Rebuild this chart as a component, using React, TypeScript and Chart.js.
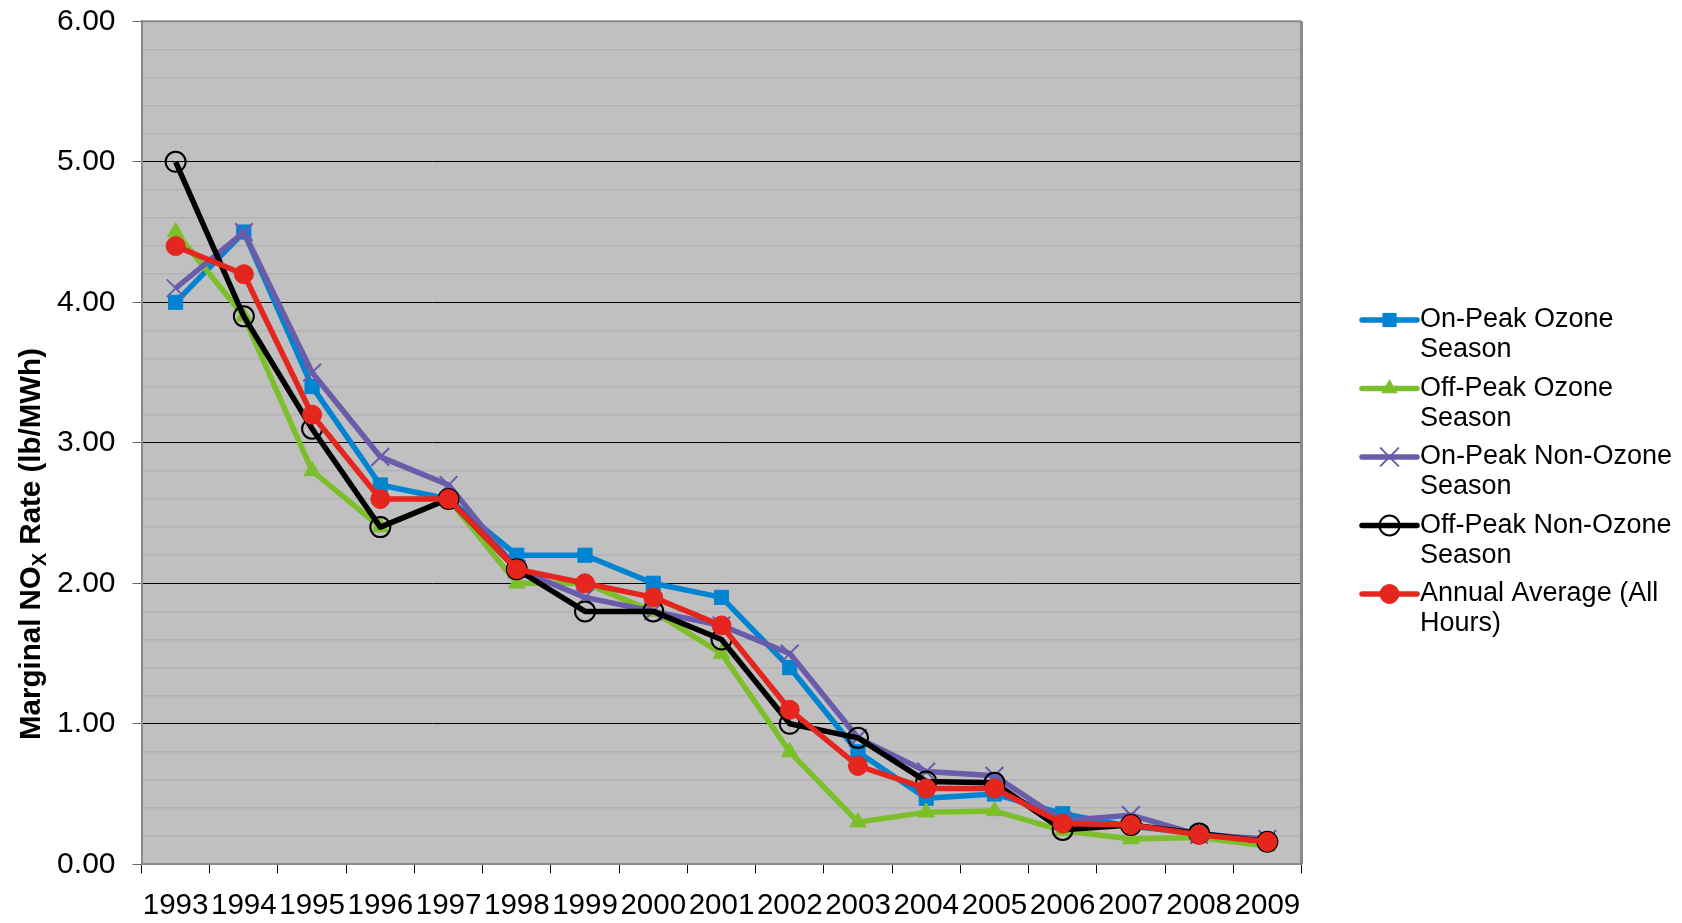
import React, { useEffect, useRef } from 'react';
import { Chart, registerables } from 'chart.js';

Chart.register(...registerables);

const YEARS = ['1993', '1994', '1995', '1996', '1997', '1998', '1999', '2000', '2001', '2002', '2003', '2004', '2005', '2006', '2007', '2008', '2009'];
const ON_PEAK_OZONE = [4.0, 4.5, 3.4, 2.7, 2.6, 2.2, 2.2, 2.0, 1.9, 1.4, 0.8, 0.47, 0.5, 0.36, 0.27, 0.22, 0.17];
const OFF_PEAK_OZONE = [4.5, 3.9, 2.8, 2.4, 2.6, 2.0, 2.0, 1.8, 1.5, 0.8, 0.3, 0.37, 0.38, 0.24, 0.18, 0.19, 0.13];
const ON_PEAK_NON_OZONE = [4.1, 4.5, 3.5, 2.9, 2.7, 2.1, 1.9, 1.8, 1.7, 1.5, 0.9, 0.66, 0.63, 0.31, 0.35, 0.21, 0.18];
const OFF_PEAK_NON_OZONE = [5.0, 3.9, 3.1, 2.4, 2.6, 2.1, 1.8, 1.8, 1.6, 1.0, 0.9, 0.59, 0.58, 0.245, 0.28, 0.22, 0.16];
const ANNUAL_AVERAGE = [4.4, 4.2, 3.2, 2.6, 2.6, 2.1, 2.0, 1.9, 1.7, 1.1, 0.7, 0.54, 0.54, 0.29, 0.28, 0.21, 0.16];

const LEGEND_LINES = [
  ['On-Peak Ozone', 'Season'],
  ['Off-Peak Ozone', 'Season'],
  ['On-Peak Non-Ozone', 'Season'],
  ['Off-Peak Non-Ozone', 'Season'],
  ['Annual Average (All', 'Hours)'],
];
const TITLE_MAIN = 'Marginal NO';
const TITLE_SUB = 'X';
const TITLE_REST = ' Rate (lb/MWh)';

const FONT = "'Liberation Sans', Arial, sans-serif";
const LINE_W = 5.5;

const SERIES = [
  { label: 'On-Peak Ozone Season', data: ON_PEAK_OZONE, color: '#0084D1', style: 'rect', radius: 10, fill: '#0084D1', bw: 1 },
  { label: 'Off-Peak Ozone Season', data: OFF_PEAK_OZONE, color: '#7DBE2B', style: 'triangle', radius: 9.5, fill: '#7DBE2B', bw: 1 },
  { label: 'On-Peak Non-Ozone Season', data: ON_PEAK_NON_OZONE, color: '#6A5BAB', style: 'crossRot', radius: 12.5, fill: '#6A5BAB', bw: 2 },
  { label: 'Off-Peak Non-Ozone Season', data: OFF_PEAK_NON_OZONE, color: '#000000', style: 'circle', radius: 10, fill: 'rgba(0,0,0,0)', bw: 2 },
  { label: 'Annual Average (All Hours)', data: ANNUAL_AVERAGE, color: '#E4261F', style: 'circle', radius: 9.5, fill: '#E4261F', bw: 1 },
];

function isMajor(v: number) {
  return Math.abs(v - Math.round(v)) < 1e-6;
}

function drawMarker(ctx: CanvasRenderingContext2D, s: any, x: number, y: number) {
  ctx.save();
  ctx.fillStyle = s.fill;
  ctx.strokeStyle = s.color;
  ctx.lineWidth = s.bw;
  const r = s.radius;
  ctx.beginPath();
  if (s.style === 'rect') {
    const h = r * Math.SQRT1_2;
    ctx.rect(x - h, y - h, 2 * h, 2 * h);
    ctx.fill();
  } else if (s.style === 'triangle') {
    ctx.moveTo(x, y - r);
    ctx.lineTo(x + r * Math.cos(Math.PI / 6), y + r / 2);
    ctx.lineTo(x - r * Math.cos(Math.PI / 6), y + r / 2);
    ctx.closePath();
    ctx.fill();
  } else if (s.style === 'crossRot') {
    const h = r * Math.SQRT1_2;
    ctx.moveTo(x - h, y - h);
    ctx.lineTo(x + h, y + h);
    ctx.moveTo(x + h, y - h);
    ctx.lineTo(x - h, y + h);
    ctx.stroke();
  } else {
    ctx.arc(x, y, r, 0, Math.PI * 2);
    ctx.fill();
    ctx.stroke();
  }
  ctx.restore();
}

const decoPlugin = {
  id: 'deco',
  beforeDraw(chart: any) {
    const { ctx, chartArea: a } = chart;
    ctx.save();
    ctx.fillStyle = '#ffffff';
    ctx.fillRect(0, 0, chart.width, chart.height);
    ctx.fillStyle = '#C0C0C0';
    ctx.fillRect(a.left, a.top, a.right - a.left, a.bottom - a.top);
    ctx.restore();
  },
  beforeDatasetsDraw(chart: any) {
    const { ctx, chartArea: a } = chart;
    ctx.save();
    ctx.strokeStyle = '#8A8A8A';
    ctx.lineWidth = 2;
    ctx.beginPath();
    ctx.moveTo(a.left, a.top);
    ctx.lineTo(a.right, a.top);
    ctx.stroke();
    ctx.lineWidth = 3;
    ctx.beginPath();
    ctx.moveTo(a.right, a.top);
    ctx.lineTo(a.right, a.bottom);
    ctx.stroke();
    ctx.restore();
  },
  afterDraw(chart: any) {
    const { ctx } = chart;
    // Y axis title with subscript
    ctx.save();
    ctx.fillStyle = '#000';
    const big = `bold 29.5px ${FONT}`;
    const small = `bold 20px ${FONT}`;
    ctx.font = big;
    const w1 = ctx.measureText(TITLE_MAIN).width;
    const w3 = ctx.measureText(TITLE_REST).width;
    ctx.font = small;
    const w2 = ctx.measureText(TITLE_SUB).width;
    const total = w1 + w2 + w3;
    ctx.translate(40, 544);
    ctx.rotate(-Math.PI / 2);
    ctx.textBaseline = 'alphabetic';
    ctx.textAlign = 'left';
    let x = -total / 2;
    ctx.font = big;
    ctx.fillText(TITLE_MAIN, x, 0);
    x += w1;
    ctx.font = small;
    ctx.fillText(TITLE_SUB, x, 6);
    x += w2;
    ctx.font = big;
    ctx.fillText(TITLE_REST, x, 0);
    ctx.restore();

    // Legend
    ctx.save();
    const x0 = 1362;
    const x1 = 1417;
    const tx = 1420;
    const y0 = 320;
    const pitch = 68.5;
    const lh = 30;
    SERIES.forEach((s, i) => {
      const y = y0 + i * pitch;
      ctx.strokeStyle = s.color;
      ctx.lineWidth = LINE_W;
      ctx.lineCap = 'round';
      ctx.beginPath();
      ctx.moveTo(x0, y);
      ctx.lineTo(x1, y);
      ctx.stroke();
      drawMarker(ctx, s, (x0 + x1) / 2, y);
      ctx.fillStyle = '#000';
      ctx.font = `27px ${FONT}`;
      ctx.textBaseline = 'middle';
      ctx.textAlign = 'left';
      LEGEND_LINES[i].forEach((line, j) => {
        ctx.fillText(line, tx, y + j * lh);
      });
    });
    ctx.restore();
  },
};

export default function App() {
  const ref = useRef<HTMLCanvasElement | null>(null);

  useEffect(() => {
    document.body.style.margin = '0';
    const canvas = ref.current;
    if (!canvas) return;
    const order = [5, 4, 3, 2, 1];
    const chart = new Chart(canvas, {
      type: 'line',
      data: {
        labels: YEARS,
        datasets: SERIES.map((s, i) => ({
          label: s.label,
          data: s.data,
          borderColor: s.color,
          backgroundColor: s.color,
          borderWidth: LINE_W,
          borderJoinStyle: 'round' as const,
          tension: 0,
          fill: false,
          order: order[i],
          pointStyle: s.style as any,
          pointRadius: s.radius,
          pointBackgroundColor: s.fill,
          pointBorderColor: s.color,
          pointBorderWidth: s.bw,
          pointHoverRadius: s.radius,
        })),
      },
      options: {
        animation: false,
        responsive: true,
        maintainAspectRatio: false,
        devicePixelRatio: 1,
        layout: { autoPadding: false, padding: { top: 21.3, right: 380.5, left: 0, bottom: 0 } },
        plugins: {
          legend: { display: false },
          tooltip: { enabled: false },
          title: { display: false },
        },
        scales: {
          x: {
            type: 'category',
            offset: true,
            grid: {
              display: true,
              offset: true,
              drawOnChartArea: false,
              drawTicks: true,
              tickLength: 9,
              color: '#000000',
              lineWidth: 1,
            },
            border: { display: true, color: '#8A8A8A', width: 2 },
            ticks: {
              color: '#000',
              font: { family: FONT, size: 29.5 },
              padding: 15,
              maxRotation: 0,
              minRotation: 0,
              autoSkip: false,
            },
            afterFit: (s: any) => {
              s.height = 58.7;
            },
          },
          y: {
            type: 'linear',
            min: 0,
            max: 6,
            grid: {
              display: true,
              drawTicks: true,
              tickLength: 9,
              color: (c: any) => {
                const v = c.tick ? c.tick.value : 0;
                if (Math.abs(v - 6) < 1e-6) return 'rgba(0,0,0,0)';
                return isMajor(v) ? '#000000' : '#B2B2B2';
              },
              lineWidth: (c: any) => {
                const v = c.tick ? c.tick.value : 0;
                return isMajor(v) ? 1 : 1.5;
              },
              tickColor: (c: any) => {
                const v = c.tick ? c.tick.value : 0;
                return isMajor(v) ? '#666666' : 'rgba(0,0,0,0)';
              },
            },
            border: { display: true, color: '#8A8A8A', width: 2 },
            ticks: {
              stepSize: 0.2,
              autoSkip: false,
              color: '#000',
              font: { family: FONT, size: 30, lineHeight: 0.2 },
              padding: 17,
              callback: (v: any) => (isMajor(Number(v)) ? Number(v).toFixed(2) : ''),
            },
            afterFit: (s: any) => {
              s.width = 141.5;
            },
          },
        },
      },
      plugins: [decoPlugin],
    });
    return () => chart.destroy();
  }, []);

  return (
    <div style={{ position: 'absolute', left: 0, top: 0, width: 1682, height: 923, background: '#fff' }}>
      <canvas ref={ref} />
    </div>
  );
}
